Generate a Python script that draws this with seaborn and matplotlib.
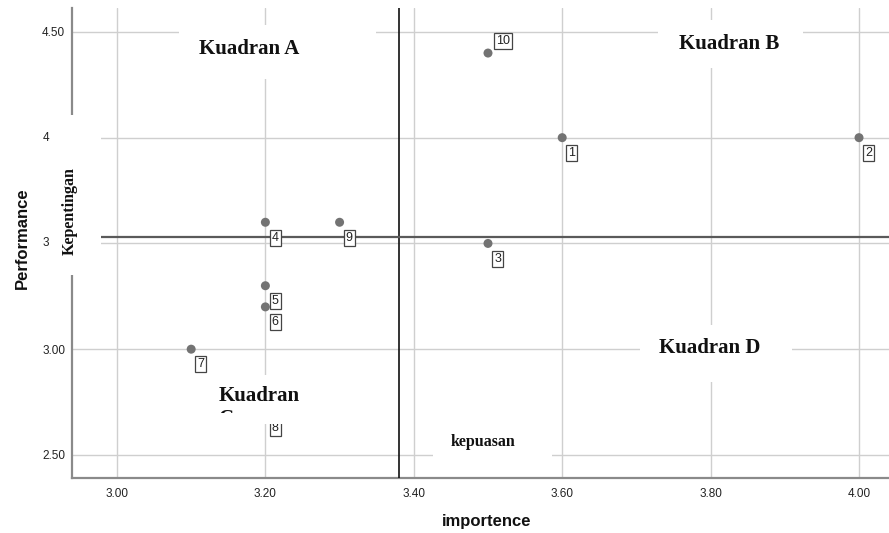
import numpy as np
import pandas as pd
import seaborn as sns
import matplotlib.pyplot as plt
from matplotlib.patches import Rectangle
from matplotlib.transforms import Bbox, TransformedBbox

# values
ids = [1, 2, 3, 4, 5, 6, 7, 8, 9, 10]
importence = [3.6, 4.0, 3.5, 3.2, 3.2, 3.2, 3.1, 3.2, 3.3, 3.5]
performance = [4.0, 4.0, 3.5, 3.6, 3.3, 3.2, 3.0, 2.7, 3.6, 4.4]

x_ticks = [3.0, 3.2, 3.4, 3.6, 3.8, 4.0]
x_ticklabels = ["3.00", "3.20", "3.40", "3.60", "3.80", "4.00"]
y_ticks = [2.5, 3.0, 3.5, 4.0, 4.5]
y_ticklabels = ["2.50", "3.00", "", "", "4.50"]  # 3.50 / 4.00 are hidden under a text box
y_typed = ["3", "4"]  # typed over the box instead

df = pd.DataFrame({"id": ids, "importence": importence, "performance": performance})

sns.set_style("white")
plt.rcParams["font.family"] = ["Liberation Sans", "DejaVu Sans"]
serif = ["Liberation Serif", "DejaVu Serif"]

W, H = 889, 533
fig = plt.figure(figsize=(W / 100, H / 100), dpi=100)
ax = fig.add_axes([72 / W, 1 - 478 / H, (W - 72) / W, (478 - 8) / H])


def fx(px):
    return px / W


def fy(py):
    return 1 - py / H


# scatter
sns.scatterplot(data=df, x="importence", y="performance", color="#737373",
                s=42, edgecolor="none", ax=ax, zorder=4)

# mean reference lines
ax.axvline(np.mean(importence), color="#111111", lw=1.2, zorder=3)
ax.axhline(np.mean(performance), color="#5a5a5a", lw=1.6, zorder=3)

# point labels
offsets = {10: (6, 9)}
for i, xv, yv in zip(ids, importence, performance):
    dx, dy = offsets.get(i, (4.5, -11))
    ax.annotate(str(i), (xv, yv), xytext=(dx, dy), textcoords="offset points",
                ha="left", va="center", fontsize=9, color="#222222", zorder=5,
                bbox=dict(boxstyle="square,pad=0.16", fc="white", ec="#444444", lw=0.9))

ax.set_xlim(2.9394, 4.0404)
ax.set_ylim(2.391, 4.613)
ax.set_xticks(x_ticks)
ax.set_xticklabels(x_ticklabels)
ax.set_yticks(y_ticks)
ax.set_yticklabels(y_ticklabels)
ax.tick_params(axis="x", length=0, pad=7, labelsize=8.5, labelcolor="#222222")
ax.tick_params(axis="y", length=0, pad=5, labelsize=8.5, labelcolor="#222222")
ax.grid(True, color="#cfcfcf", lw=1)
ax.set_axisbelow(True)

for s in ["top", "right"]:
    ax.spines[s].set_visible(False)
for s in ["left", "bottom"]:
    ax.spines[s].set_color("#8a8a8a")
    ax.spines[s].set_linewidth(1.6)

ax.set_xlabel("importence", fontsize=12, fontweight="bold", color="#111111")
ax.set_ylabel("Performance", fontsize=12, fontweight="bold", color="#111111")
ax.xaxis.set_label_coords(0.507, -0.076)
ax.yaxis.set_label_coords(-0.051, 0.511)

# white text boxes pasted over the chart (x0, y0, x1, y1 in pixels)
boxes = [(179, 25, 376, 79), (658, 20, 803, 68), (640, 325, 792, 382),
         (433, 428, 552, 475.5), (52, 115, 101, 275), (200, 375, 320, 424)]
for x0, y0, x1, y1 in boxes:
    fig.add_artist(Rectangle((fx(x0), fy(y1)), fx(x1) - fx(x0), fy(y0) - fy(y1),
                             transform=fig.transFigure, fc="white", ec="none", zorder=5))

tkw = dict(family=serif, fontweight="bold", color="#111111", zorder=6)
fig.text(fx(249.5), fy(54), "Kuadran A", ha="center", va="baseline", fontsize=15, **tkw)
fig.text(fx(729), fy(49), "Kuadran B", ha="center", va="baseline", fontsize=15, **tkw)
fig.text(fx(710), fy(353), "Kuadran D", ha="center", va="baseline", fontsize=15, **tkw)
fig.text(fx(483), fy(446), "kepuasan", ha="center", va="baseline", fontsize=11.5, **tkw)
fig.text(fx(70), fy(211), "Kepentingan", ha="center", va="center", rotation=90,
         fontsize=11.5, **tkw)
tc = fig.text(fx(219), fy(386), "Kuadran\nC", ha="left", va="top", fontsize=15,
              linespacing=1.2, **tkw)
tc.set_clip_box(TransformedBbox(Bbox.from_extents(fx(200), fy(413), fx(320), fy(375)),
                                fig.transFigure))
tc.set_clip_on(True)

# the "3" and "4" typed over the covered y tick labels
for lab, yv in zip(y_typed, [3.5, 4.0]):
    ax.text(-0.0355, yv, lab, transform=ax.get_yaxis_transform(), ha="left",
            va="center", fontsize=8.5, color="#222222", zorder=7, clip_on=False)

fig.savefig("out.png", dpi=100)
